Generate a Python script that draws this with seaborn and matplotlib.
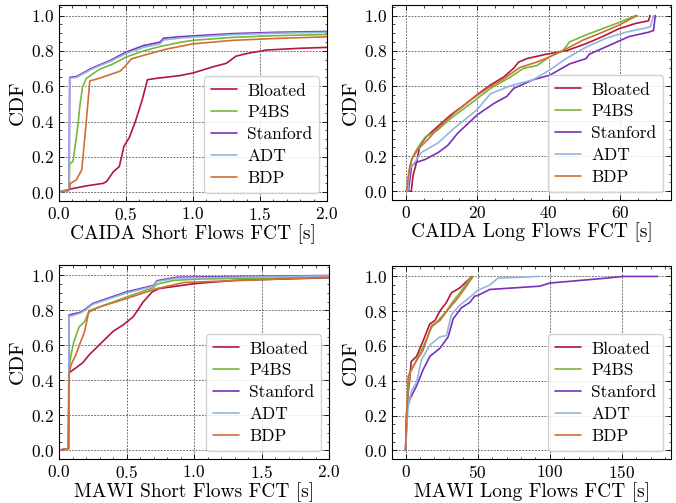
import numpy as np
import pandas as pd
import matplotlib
matplotlib.use("Agg")
import matplotlib.pyplot as plt
import seaborn as sns
from matplotlib.ticker import AutoMinorLocator, MultipleLocator

schemes = ["Bloated", "P4BS", "Stanford", "ADT", "BDP"]
colors = ["#b2183a", "#74b83a", "#7a2fba", "#93b6e0", "#cf6f36"]

# ---------------- CAIDA short flows ----------------
cs_bloated_x = [0, 0.1, 0.2, 0.33, 0.355, 0.405, 0.45, 0.485, 0.525, 0.57, 0.62, 0.66, 0.73, 0.9, 1.0, 1.15, 1.25, 1.32, 1.4, 1.55, 1.8, 2.0]
cs_bloated_y = [0, 0.02, 0.035, 0.05, 0.06, 0.115, 0.145, 0.26, 0.31, 0.40, 0.52, 0.637, 0.645, 0.66, 0.675, 0.71, 0.73, 0.77, 0.785, 0.805, 0.815, 0.82]
cs_p4bs_x = [0, 0.075, 0.08, 0.105, 0.14, 0.155, 0.175, 0.205, 0.3, 0.4, 0.5, 0.63, 0.755, 0.9, 1.0, 1.3, 1.6, 2.0]
cs_p4bs_y = [0, 0.01, 0.16, 0.175, 0.37, 0.485, 0.595, 0.645, 0.695, 0.725, 0.765, 0.8, 0.825, 0.848, 0.86, 0.877, 0.886, 0.893]
cs_stanford_x = [0, 0.075, 0.08, 0.13, 0.18, 0.24, 0.3, 0.38, 0.5, 0.63, 0.755, 0.78, 0.9, 1.0, 1.3, 1.6, 2.0]
cs_stanford_y = [0, 0.01, 0.65, 0.655, 0.675, 0.70, 0.72, 0.745, 0.793, 0.83, 0.85, 0.872, 0.88, 0.885, 0.898, 0.905, 0.91]
cs_adt_x = [0, 0.075, 0.08, 0.13, 0.18, 0.24, 0.3, 0.38, 0.5, 0.63, 0.755, 0.78, 0.9, 1.0, 1.3, 1.6, 2.0]
cs_adt_y = [0, 0.01, 0.645, 0.65, 0.67, 0.695, 0.715, 0.74, 0.785, 0.82, 0.84, 0.862, 0.872, 0.878, 0.892, 0.9, 0.905]
cs_bdp_x = [0, 0.08, 0.085, 0.13, 0.17, 0.2, 0.23, 0.3, 0.455, 0.49, 0.54, 0.655, 0.8, 1.0, 1.3, 1.6, 2.0]
cs_bdp_y = [0, 0.017, 0.05, 0.07, 0.127, 0.37, 0.63, 0.645, 0.685, 0.71, 0.755, 0.78, 0.81, 0.84, 0.86, 0.87, 0.88]

# ---------------- CAIDA long flows ----------------
cl_bloated_x = [0, 1.5, 2, 3, 3.9, 5.7, 9, 12.6, 16.3, 20, 23.7, 27.4, 30.2, 31.6, 33.9, 39.4, 45, 50.5, 55.1, 59.7, 64.4, 68, 68.4]
cl_bloated_y = [0, 0, 0.09, 0.165, 0.26, 0.31, 0.37, 0.435, 0.49, 0.55, 0.605, 0.65, 0.70, 0.735, 0.755, 0.78, 0.80, 0.84, 0.88, 0.925, 0.955, 0.97, 1.0]
cl_p4bs_x = [0.3, 1.1, 2, 3.4, 5.3, 9, 12.6, 18.2, 23.7, 29.3, 33, 36.7, 40.3, 44, 45.9, 50.5, 55.1, 59.7, 64.4]
cl_p4bs_y = [0, 0.145, 0.2, 0.25, 0.305, 0.35, 0.415, 0.50, 0.585, 0.65, 0.70, 0.715, 0.765, 0.80, 0.85, 0.89, 0.925, 0.96, 1.0]
cl_stanford_x = [0.7, 1.6, 3, 5.3, 9, 11.7, 14.5, 20, 24.7, 28.3, 30.2, 35.7, 40.3, 45.9, 50.5, 51.4, 57, 62.5, 68, 69.4, 69.9]
cl_stanford_y = [0, 0.145, 0.165, 0.18, 0.22, 0.26, 0.33, 0.435, 0.50, 0.54, 0.585, 0.635, 0.66, 0.725, 0.755, 0.78, 0.83, 0.88, 0.905, 0.915, 1.0]
cl_adt_x = [0.5, 1.1, 2.5, 4.3, 9, 13.6, 18.2, 20, 23.7, 29.3, 35.7, 40.3, 44.9, 50.5, 56, 61.6, 68.5, 69.4]
cl_adt_y = [0, 0.125, 0.165, 0.22, 0.275, 0.36, 0.435, 0.465, 0.555, 0.60, 0.635, 0.69, 0.755, 0.82, 0.87, 0.905, 0.935, 1.0]
cl_bdp_x = [0.2, 0.8, 1.6, 3.4, 6.2, 9, 13.6, 18.2, 22.8, 27.4, 32, 36.7, 40.3, 44.9, 49.6, 55.1, 59.7, 64.8]
cl_bdp_y = [0, 0.107, 0.18, 0.24, 0.295, 0.36, 0.445, 0.52, 0.585, 0.64, 0.705, 0.735, 0.765, 0.81, 0.86, 0.905, 0.945, 1.0]

# ---------------- MAWI short flows ----------------
ms_bloated_x = [0, 0.07, 0.075, 0.175, 0.225, 0.3, 0.4, 0.475, 0.55, 0.625, 0.69, 0.74, 1.0, 1.3, 2.0]
ms_bloated_y = [0, 0.01, 0.443, 0.50, 0.547, 0.604, 0.68, 0.717, 0.764, 0.85, 0.906, 0.925, 0.953, 0.972, 0.987]
ms_p4bs_x = [0, 0.07, 0.075, 0.09, 0.11, 0.15, 0.19, 0.225, 0.3, 0.5, 0.7, 0.725, 0.85, 1.05, 2.0]
ms_p4bs_y = [0, 0.01, 0.48, 0.55, 0.62, 0.707, 0.736, 0.80, 0.82, 0.877, 0.93, 0.95, 0.972, 0.98, 0.99]
ms_stanford_x = [0, 0.07, 0.075, 0.16, 0.2, 0.25, 0.5, 0.7, 0.725, 0.875, 2.0]
ms_stanford_y = [0, 0.01, 0.774, 0.79, 0.81, 0.84, 0.906, 0.943, 0.97, 0.99, 1.0]
ms_adt_x = [0, 0.07, 0.075, 0.16, 0.2, 0.25, 0.5, 0.7, 0.725, 0.875, 2.0]
ms_adt_y = [0, 0.01, 0.765, 0.785, 0.805, 0.835, 0.9, 0.938, 0.965, 0.985, 0.998]
ms_bdp_x = [0, 0.07, 0.075, 0.09, 0.125, 0.16, 0.19, 0.22, 0.3, 0.5, 0.725, 0.925, 2.0]
ms_bdp_y = [0, 0.01, 0.44, 0.49, 0.547, 0.62, 0.68, 0.79, 0.82, 0.868, 0.925, 0.96, 0.99]

# ---------------- MAWI long flows ----------------
ml_bloated_x = [0, 1, 1.6, 2.8, 3.9, 7.6, 12.2, 16.8, 20.3, 23.7, 28.3, 31.8, 37.6, 42.2, 46]
ml_bloated_y = [0, 0.2, 0.32, 0.40, 0.51, 0.54, 0.63, 0.727, 0.746, 0.80, 0.85, 0.906, 0.934, 0.97, 1.0]
ml_p4bs_x = [0, 1.2, 3, 7.6, 12.2, 18, 21.4, 28.3, 32.9, 37.6, 41, 45.6]
ml_p4bs_y = [0, 0.30, 0.445, 0.52, 0.595, 0.707, 0.735, 0.80, 0.856, 0.906, 0.944, 1.0]
ml_stanford_x = [0, 0.7, 3, 7.6, 12.2, 16.8, 23.7, 29.5, 33, 38.7, 44.5, 47.9, 50, 58.3, 93, 100, 139, 150.4, 174.6]
ml_stanford_y = [0, 0.22, 0.295, 0.37, 0.464, 0.54, 0.586, 0.652, 0.756, 0.82, 0.85, 0.887, 0.89, 0.925, 0.944, 0.962, 0.99, 1.0, 1.0]
ml_adt_x = [0, 1.8, 4.1, 7.6, 11, 16.8, 23.7, 28.3, 31.8, 37.6, 43.3, 50, 58.3, 64, 92.8]
ml_adt_y = [0, 0.26, 0.34, 0.39, 0.52, 0.605, 0.652, 0.66, 0.78, 0.835, 0.872, 0.92, 0.95, 0.99, 1.0]
ml_bdp_x = [0, 1.8, 6.5, 12.2, 18, 23.7, 29.5, 35.2, 41, 46.8]
ml_bdp_y = [0, 0.427, 0.50, 0.577, 0.718, 0.746, 0.81, 0.865, 0.93, 1.0]

xlabels = ["CAIDA Short Flows FCT [s]", "CAIDA Long Flows FCT [s]",
           "MAWI Short Flows FCT [s]", "MAWI Long Flows FCT [s]"]


def frame(series):
    parts = []
    for name, (xs, ys) in zip(schemes, series):
        parts.append(pd.DataFrame({"x": xs, "cdf": ys, "scheme": name}))
    return pd.concat(parts, ignore_index=True)


panels = [
    frame([(cs_bloated_x, cs_bloated_y), (cs_p4bs_x, cs_p4bs_y), (cs_stanford_x, cs_stanford_y),
           (cs_adt_x, cs_adt_y), (cs_bdp_x, cs_bdp_y)]),
    frame([(cl_bloated_x, cl_bloated_y), (cl_p4bs_x, cl_p4bs_y), (cl_stanford_x, cl_stanford_y),
           (cl_adt_x, cl_adt_y), (cl_bdp_x, cl_bdp_y)]),
    frame([(ms_bloated_x, ms_bloated_y), (ms_p4bs_x, ms_p4bs_y), (ms_stanford_x, ms_stanford_y),
           (ms_adt_x, ms_adt_y), (ms_bdp_x, ms_bdp_y)]),
    frame([(ml_bloated_x, ml_bloated_y), (ml_p4bs_x, ml_p4bs_y), (ml_stanford_x, ml_stanford_y),
           (ml_adt_x, ml_adt_y), (ml_bdp_x, ml_bdp_y)]),
]

sns.set_theme(style="ticks")
plt.rcParams.update({
    "font.family": ["serif"],
    "font.serif": ["cmr10", "DejaVu Serif"],
    "mathtext.fontset": "cm",
    "axes.formatter.use_mathtext": True,
    "font.size": 12,
    "axes.labelsize": 14,
    "xtick.labelsize": 12.5,
    "ytick.labelsize": 12.5,
    "legend.fontsize": 12.5,
    "axes.linewidth": 0.8,
    "axes.edgecolor": "black",
    "xtick.direction": "in",
    "ytick.direction": "in",
    "xtick.top": True,
    "ytick.right": True,
    "xtick.major.size": 3.5,
    "ytick.major.size": 3.5,
    "xtick.minor.size": 1.8,
    "ytick.minor.size": 1.8,
    "xtick.major.width": 0.6,
    "ytick.major.width": 0.6,
    "xtick.minor.width": 0.5,
    "ytick.minor.width": 0.5,
    "xtick.color": "black",
    "ytick.color": "black",
    "text.color": "black",
    "axes.labelcolor": "black",
})

fig = plt.figure(figsize=(6.76, 5.03), dpi=100)
W, H = 676.0, 503.0
boxes = [(59, 5, 327, 201), (392, 5, 671, 200), (59, 265, 329, 459), (392, 266, 671, 459)]
palette = dict(zip(schemes, colors))

for i, (df, box) in enumerate(zip(panels, boxes)):
    l, t, r, b = box
    ax = fig.add_axes([l / W, 1 - b / H, (r - l) / W, (b - t) / H])
    sns.lineplot(data=df, x="x", y="cdf", hue="scheme", hue_order=schemes, palette=palette,
                 estimator=None, sort=False, lw=1.2, ax=ax)
    ax.set_xlabel(xlabels[i], labelpad=1)
    ax.set_ylabel("CDF", labelpad=3, fontsize=15)
    if i in (0, 2):
        ax.set_xlim(0, 2)
        ax.xaxis.set_major_locator(MultipleLocator(0.5))
    elif i == 1:
        ax.set_xlim(-3.9, 74.3)
        ax.xaxis.set_major_locator(MultipleLocator(20))
    else:
        ax.set_xlim(-9.4, 184)
        ax.xaxis.set_major_locator(MultipleLocator(50))
    ax.set_ylim(-0.05, 1.06)
    ax.yaxis.set_major_locator(MultipleLocator(0.2))
    ax.xaxis.set_minor_locator(AutoMinorLocator())
    ax.yaxis.set_minor_locator(AutoMinorLocator())
    ax.tick_params(which="both", top=True, right=True, direction="in")
    ax.grid(True, which="major", color="0.35", linestyle=(0, (2.2, 1.6)), linewidth=0.6)
    ax.set_axisbelow(True)
    handles, labels = ax.get_legend_handles_labels()
    ax.legend(handles, labels, loc="lower right", frameon=True, fancybox=True,
              handlelength=1.5, handletextpad=0.6, labelspacing=0.38, borderpad=0.4,
              borderaxespad=0.45, framealpha=0.85, edgecolor="0.8")

fig.savefig("out.png", dpi=100)
